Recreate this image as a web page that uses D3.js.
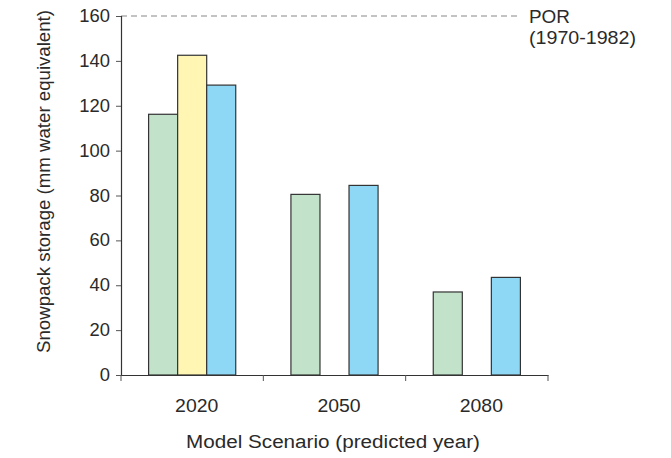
<!DOCTYPE html>
<html><head><meta charset="utf-8">
<script src="https://cdn.jsdelivr.net/npm/d3@7"></script>
<style>body{margin:0;background:#fff}svg{display:block}text{font-family:"Liberation Sans",Arial,sans-serif;fill:#2a2a2a}</style>
</head><body><svg id="c" width="671" height="458"></svg>
<script>
const categories = ["2020", "2050", "2080"];
const seriesNames = ["Scenario A", "Scenario B", "Scenario C"];
const seriesA = [116.2, 80.5, 37.0];
const seriesB = [142.5, null, null];
const seriesC = [129.2, 84.5, 43.5];
const yTicks = [0, 20, 40, 60, 80, 100, 120, 140, 160];
const porValue = 160;
const porLabel = ["POR", "(1970-1982)"];
const colors = ["#c2e3c9", "#fff6b4", "#8ed8f6"];

(function () {
const series = [seriesA, seriesB, seriesC];
const svg = d3.select("#c");
const mLeft = 121, mRight = 548, mTop = 16, mBottom = 375;
const FONT = "Liberation Sans, Arial, sans-serif";

function stretch(sel, k) {
  sel.each(function () {
    const len = this.getComputedTextLength();
    d3.select(this).attr("textLength", len * k).attr("lengthAdjust", "spacingAndGlyphs");
  });
}
function fitTo(sel, w) {
  sel.attr("textLength", w).attr("lengthAdjust", "spacingAndGlyphs");
}

const x0 = d3.scaleBand().domain(categories).range([mLeft, mRight]).padding(0);
const x1 = d3.scaleBand().domain(seriesNames).range([0, x0.bandwidth()]).paddingInner(0).paddingOuter(0.95);
const y = d3.scaleLinear().domain([0, 160]).range([mBottom, mTop]);

// POR dashed line
svg.append("line").attr("x1", mLeft).attr("x2", 521)
  .attr("y1", y(porValue)).attr("y2", y(porValue))
  .attr("stroke", "#888").attr("stroke-width", 1.2).attr("stroke-dasharray", "6,4");
const por = svg.append("g");
por.selectAll("text").data(porLabel).join("text")
  .attr("x", 529).attr("y", (d, i) => i ? 43.5 : 22.7)
  .attr("font-size", 17.7).text(d => d)
  .each(function (d, i) { fitTo(d3.select(this), i ? 107 : 41); });

// bars
const data = [];
categories.forEach((c, i) => series.forEach((s, j) => {
  if (s[i] != null) data.push({c, s: seriesNames[j], v: s[i], j});
}));
svg.append("g").selectAll("rect").data(data).join("rect")
  .attr("x", d => x0(d.c) + x1(d.s))
  .attr("width", x1.bandwidth())
  .attr("y", d => y(d.v))
  .attr("height", d => y(0) - y(d.v))
  .attr("fill", d => colors[d.j])
  .attr("stroke", "#333").attr("stroke-width", 1.2);

// y axis
const ya = svg.append("g").attr("transform", `translate(${mLeft},0)`)
  .call(d3.axisLeft(y).tickValues(yTicks).tickSize(5).tickPadding(6));
ya.selectAll("text").attr("font-size", 17.5).attr("font-family", FONT).attr("fill", "#2a2a2a");
stretch(ya.selectAll("text"), 1.05);
ya.select(".domain").attr("stroke", "#333").attr("stroke-width", 1.2);
ya.selectAll(".tick line").attr("stroke", "#555");

// x axis
const xa = svg.append("g").attr("transform", `translate(0,${mBottom})`)
  .call(d3.axisBottom(x0).tickSize(0));
xa.selectAll(".tick text").attr("font-size", 18.5).attr("font-family", FONT).attr("fill", "#2a2a2a")
  .attr("y", 36.7).attr("dy", 0).attr("dx", 4.5);
stretch(xa.selectAll(".tick text"), 1.05);
xa.select(".domain").attr("stroke", "#333").attr("stroke-width", 1.2);
const bounds = categories.map(c => x0(c)).concat([x0(categories[categories.length - 1]) + x0.bandwidth()]);
xa.selectAll(".bt").data(bounds).join("line").attr("class", "bt")
  .attr("x1", d => d).attr("x2", d => d).attr("y1", 0).attr("y2", 6)
  .attr("stroke", "#555").attr("stroke-width", 1);

// axis titles
svg.append("text").attr("x", 333).attr("y", 448.3).attr("text-anchor", "middle")
  .attr("font-size", 18).text("Model Scenario (predicted year)").call(fitTo, 294);
svg.append("text").attr("transform", "translate(50,181.5) rotate(-90)").attr("text-anchor", "middle")
  .attr("font-size", 18).text("Snowpack storage (mm water equivalent)").call(fitTo, 343);
})();
</script></body></html>
